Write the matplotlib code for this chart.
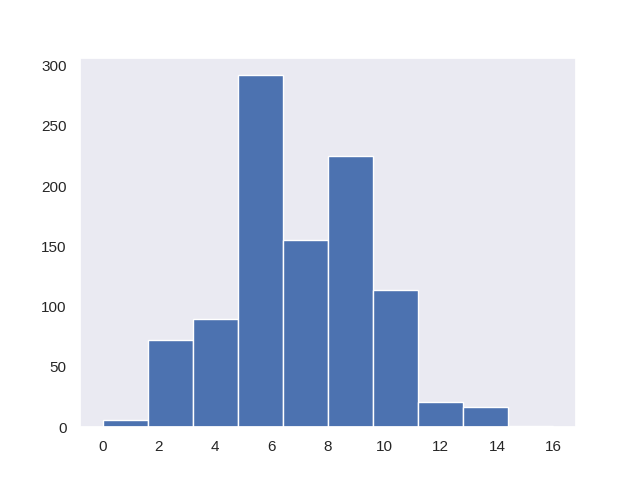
import numpy as np
import matplotlib
matplotlib.use("Agg")
import matplotlib.pyplot as plt
import seaborn as sns

# counts per bin
edges = np.linspace(0, 16, 11)
counts = [6, 72, 90, 292, 155, 225, 114, 21, 17, 1]

sns.set_theme(style="dark")
plt.rcParams["font.family"] = ["Liberation Sans", "DejaVu Sans"]
fig = plt.figure(figsize=(6.4, 4.8), dpi=100)
centers = (edges[:-1] + edges[1:]) / 2
plt.hist(centers, bins=edges, weights=counts)
plt.savefig("out.png")
